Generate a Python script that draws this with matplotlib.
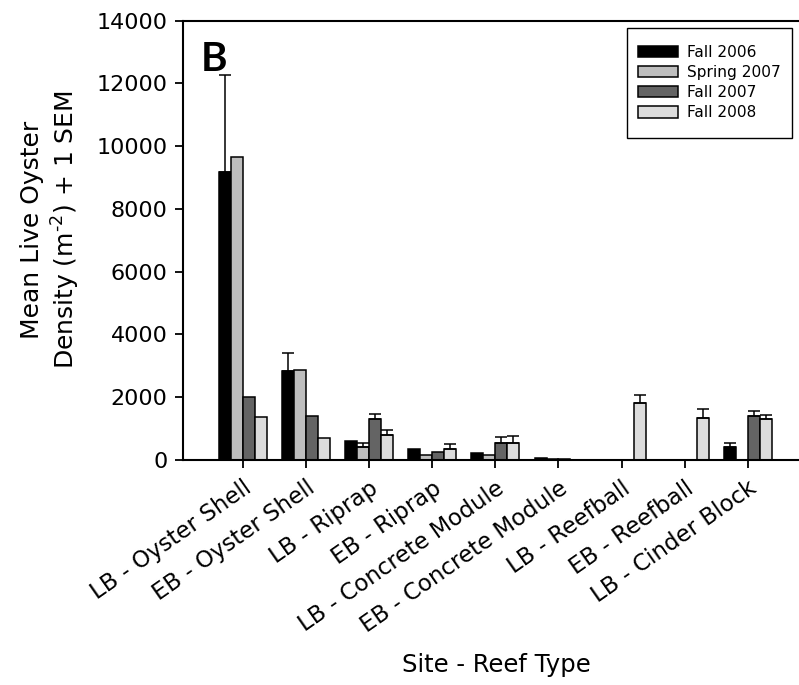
import numpy as np
import matplotlib
matplotlib.use("Agg")
import matplotlib.pyplot as plt
from matplotlib.patches import Rectangle
from matplotlib.transforms import ScaledTranslation

plt.rcParams['font.family'] = ['DejaVu Sans']

sites = ["LB - Oyster Shell", "EB - Oyster Shell", "LB - Riprap", "EB - Riprap",
         "LB - Concrete Module", "EB - Concrete Module", "LB - Reefball",
         "EB - Reefball", "LB - Cinder Block"]

seasons = ["Fall 2006", "Spring 2007", "Fall 2007", "Fall 2008"]

nan = np.nan
fall_2006 = [9180, 2825, 610, 355, 230, 60, nan, nan, 420]
spring_2007 = [9650, 2880, 420, 165, 165, 20, nan, nan, nan]
fall_2007 = [2000, 1415, 1305, 260, 525, 20, nan, nan, 1405]
fall_2008 = [1360, 695, 780, 335, 540, 15, 1805, 1350, 1300]

sem_2006 = [3075, 585, 0, 0, 0, 0, 0, 0, 125]
sem_spring_2007 = [0, 0, 110, 0, 0, 0, 0, 0, 0]
sem_2007 = [0, 0, 145, 0, 220, 0, 0, 0, 145]
sem_2008 = [0, 0, 180, 165, 230, 0, 280, 280, 120]

means = [fall_2006, spring_2007, fall_2007, fall_2008]
sems = [sem_2006, sem_spring_2007, sem_2007, sem_2008]
colors = ["#000000", "#bebebe", "#646464", "#dcdcdc"]

yticks = [0, 2000, 4000, 6000, 8000, 10000, 12000, 14000]

W, H = 799, 685
fig = plt.figure(figsize=(W / 100, H / 100), dpi=100)
ax = fig.add_axes([0.229, 0.3285, 0.782, 0.6415])

x = np.arange(len(sites))
width = 0.19
for k, (vals, errs, col, name) in enumerate(zip(means, sems, colors, seasons)):
    pos = x + (k - 1.5) * width
    vals = np.array(vals, dtype=float)
    errs = np.array(errs, dtype=float)
    ax.bar(pos, vals, width=width, color=col, edgecolor="black",
           linewidth=1.1, label=name, zorder=2)
    m = errs > 0
    ax.errorbar(pos[m], vals[m], yerr=[np.zeros(m.sum()), errs[m]],
                fmt="none", ecolor="black", elinewidth=1.1, capsize=4,
                capthick=1.1, zorder=3)

ax.set_xlim(-0.95, 8.95)
ax.set_ylim(0, 14000)
ax.set_yticks(yticks)
ax.set_yticklabels([str(v) for v in yticks], fontsize=16)
ax.set_xticks(x)
ax.set_xticklabels(sites, fontsize=16.5, rotation=35, ha="right",
                   va="top", rotation_mode="anchor")
shift = ScaledTranslation(5 / 100, 0, fig.dpi_scale_trans)
for lab in ax.get_xticklabels():
    lab.set_transform(lab.get_transform() + shift)

ax.tick_params(axis="both", direction="out", length=6, width=1.3, colors="black")
ax.tick_params(axis="y", pad=5)
ax.tick_params(axis="x", pad=6)
for s in ax.spines.values():
    s.set_linewidth(1.5)

fig.text(496 / W, 1 - 665 / H, "Site - Reef Type", fontsize=17.5,
         ha="center", va="center")
fig.text(32 / W, 1 - 230 / H, "Mean Live Oyster", fontsize=18,
         rotation=90, ha="center", va="center")
fig.text(66 / W, 1 - 230 / H, "Density (m$^{\u20102}$) + 1 SEM",
         fontsize=18, rotation=90, ha="center", va="center")

fig.text(201 / W, 1 - 71 / H, "B", fontsize=29, fontweight="bold",
         family="Lato", ha="left", va="baseline")

# legend box drawn as a plain rectangle, entries placed inside it
fig.patches.append(Rectangle((627 / W, 1 - 138 / H), 165 / W, 110 / H,
                             transform=fig.transFigure, fill=False,
                             edgecolor="black", linewidth=1.0, zorder=5))
leg = ax.legend(loc="upper left", bbox_to_anchor=(638 / W, 1 - 45 / H),
                bbox_transform=fig.transFigure, fontsize=11.1, frameon=False,
                borderaxespad=0, borderpad=0,
                handlelength=2.6, handleheight=0.75, labelspacing=0.33,
                handletextpad=0.55)

fig.savefig("out.png", dpi=100)
